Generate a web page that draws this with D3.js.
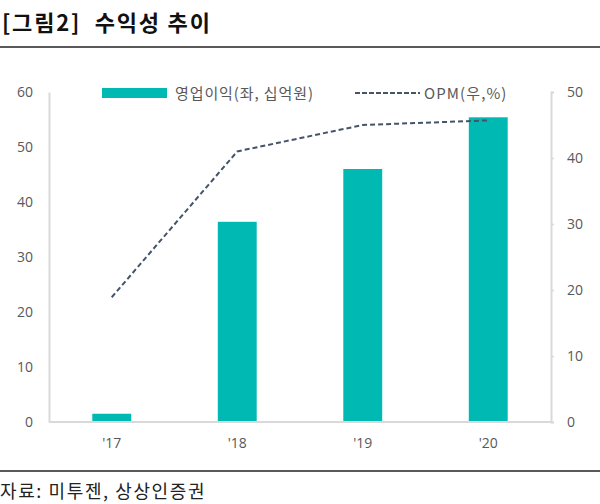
<!DOCTYPE html>
<html><head><meta charset="utf-8">
<script src="https://cdn.jsdelivr.net/npm/d3@7"></script>
<style>body{margin:0;background:#fff}svg{display:block}</style>
</head><body>
<svg id="c" width="600" height="504"></svg>
<script>
const categories = ["'17", "'18", "'19", "'20"];
const opProfit = [1.5, 36.4, 46.0, 55.4];
const opm = [18.9, 41.0, 45.0, 45.7];
const leftTicks = [0, 10, 20, 30, 40, 50, 60];
const rightTicks = [0, 10, 20, 30, 40, 50];
const title = "[그림2]  수익성 추이";
const source = "자료: 미투젠, 상상인증권";
const legendLabels = ["영업이익(좌, 십억원)", "OPM(우,%)"];

const svg = d3.select("#c");
const KR = "'Noto Sans CJK KR','Noto Sans',sans-serif";
const NUM = "'Open Sans','Noto Sans',sans-serif";
const barColor = "#00B9B2", lineColor = "#44546A", axisColor = "#D9D9D9", tickColor = "#595959";

const x = d3.scaleBand().domain(categories).range([49, 551]).paddingInner(0.69).paddingOuter(0.345);
const yL = d3.scaleLinear().domain([0, 60]).range([422, 92]);
const yR = d3.scaleLinear().domain([0, 50]).range([422, 92]);

// title
svg.append("text").attr("x", 2).attr("y", 31).attr("font-family", KR).attr("font-weight", 700)
  .attr("font-size", 22).attr("letter-spacing", 1.8).attr("fill", "#111").style("white-space", "pre").text(title);
svg.append("line").attr("x1", 0).attr("x2", 600).attr("y1", 47).attr("y2", 47).attr("stroke", "#222").attr("stroke-width", 1.5);
svg.append("line").attr("x1", 0).attr("x2", 600).attr("y1", 471).attr("y2", 471).attr("stroke", "#222").attr("stroke-width", 1.5);
svg.append("text").attr("x", 0).attr("y", 498).attr("font-family", KR).attr("font-size", 18)
  .attr("letter-spacing", 1.6).attr("fill", "#222").text(source);

// bars
svg.append("g").selectAll("rect").data(categories).join("rect")
  .attr("x", d => x(d)).attr("width", x.bandwidth())
  .attr("y", (d, i) => yL(opProfit[i])).attr("height", (d, i) => yL(0) - yL(opProfit[i]))
  .attr("fill", barColor);

// axes
const gL = svg.append("g").attr("transform", "translate(49,0)")
  .call(d3.axisLeft(yL).tickValues(leftTicks).tickSize(0).tickPadding(16));
const gR = svg.append("g").attr("transform", "translate(551,0)")
  .call(d3.axisRight(yR).tickValues(rightTicks).tickSize(3).tickPadding(13));
const gX = svg.append("g").attr("transform", "translate(0,422)")
  .call(d3.axisBottom(x).tickSize(0).tickPadding(16));
[gL, gR, gX].forEach(g => {
  g.select(".domain").attr("stroke", axisColor).attr("stroke-width", 2);
  g.selectAll(".tick line").attr("stroke", axisColor).attr("stroke-width", 1.5);
  g.selectAll("text").attr("font-family", NUM).attr("font-size", 14).attr("fill", tickColor);
});
gX.select(".domain").attr("d", "M49,0H551");

// line
const line = d3.line().x((d, i) => x(categories[i]) + x.bandwidth() / 2).y(d => yR(d));
svg.append("path").datum(opm).attr("d", line).attr("fill", "none")
  .attr("stroke", lineColor).attr("stroke-width", 2).attr("stroke-dasharray", "5,3");

// legend
const lg = svg.append("g");
lg.append("rect").attr("x", 102).attr("y", 88).attr("width", 65).attr("height", 10).attr("fill", barColor);
lg.append("text").attr("x", 175).attr("y", 98.5).attr("font-family", KR).attr("font-size", 15)
  .attr("letter-spacing", 0.9).attr("fill", tickColor).text(legendLabels[0]);
lg.append("line").attr("x1", 355).attr("x2", 420).attr("y1", 93).attr("y2", 93)
  .attr("stroke", lineColor).attr("stroke-width", 2).attr("stroke-dasharray", "5,2");
lg.append("text").attr("x", 424).attr("y", 98.5).attr("font-family", KR).attr("font-size", 15)
  .attr("letter-spacing", 1.1).attr("fill", tickColor).text(legendLabels[1]);
</script>
</body></html>
